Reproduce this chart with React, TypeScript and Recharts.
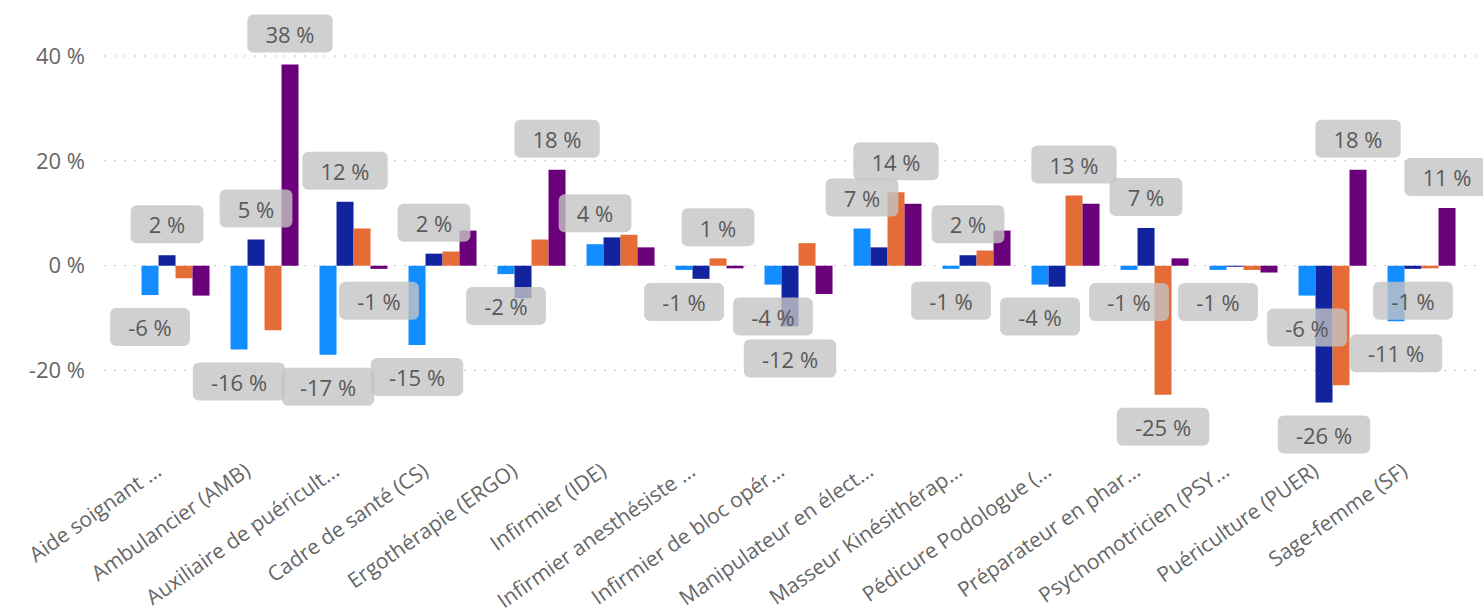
import { Bar, BarChart, CartesianGrid, LabelList, XAxis, YAxis } from 'recharts';

const categories = [
  'Aide soignant ...',
  'Ambulancier (AMB)',
  'Auxiliaire de puéricult...',
  'Cadre de santé (CS)',
  'Ergothérapie (ERGO)',
  'Infirmier (IDE)',
  'Infirmier anesthésiste ...',
  'Infirmier de bloc opér...',
  'Manipulateur en élect...',
  'Masseur Kinésithérap...',
  'Pédicure Podologue (...',
  'Préparateur en phar...',
  'Psychomotricien (PSY...',
  'Puériculture (PUER)',
  'Sage-femme (SF)',
];

const lightBlue = [-5.6, -16.0, -17.0, -15.1, -1.6, 4.1, -0.8, -3.6, 7.1, -0.6, -3.6, -0.8, -0.8, -5.7, -10.6];
const darkBlue = [2.0, 5.0, 12.2, 2.3, -6.2, 5.4, -2.5, -11.6, 3.5, 2.0, -4.0, 7.2, -0.2, -26.1, -0.6];
const orange = [-2.4, -12.3, 7.1, 2.7, 5.0, 5.9, 1.4, 4.3, 14.0, 2.9, 13.4, -24.6, -0.8, -22.8, -0.5];
const purple = [-5.7, 38.4, -0.6, 6.7, 18.3, 3.5, -0.5, -5.4, 11.8, 6.7, 11.8, 1.4, -1.3, 18.3, 11.0];

// which bars keep a visible data label (the others are hidden by overlap in the original)
const lightBlueLabels = [0, 1, 2, 3, 4, 5, 6, 7, 8, 9, 10, 11, 12, 13, 14];
const darkBlueLabels = [0, 1, 2, 3, 7, 9, 11, 13, 14];
const orangeLabels = [6, 8, 10, 11];
const purpleLabels = [1, 2, 4, 13, 14];

const yTicks = [-20, 0, 20, 40];

const data = categories.map((name, i) => ({
  name,
  s1: lightBlue[i],
  s2: darkBlue[i],
  s3: orange[i],
  s4: purple[i],
}));

const series = [
  { key: 's1', color: '#118DFF', labels: lightBlueLabels },
  { key: 's2', color: '#12239E', labels: darkBlueLabels },
  { key: 's3', color: '#E66C37', labels: orangeLabels },
  { key: 's4', color: '#6B007B', labels: purpleLabels },
];

const font = '"Segoe UI", "Open Sans", sans-serif';
const fontSize = 22;

const charW: Record<string, number> = { '-': 0.32, ' ': 0.26, '%': 0.84 };
function textWidth(s: string) {
  return [...s].reduce((w, ch) => w + (charW[ch] ?? 0.572) * fontSize, 0);
}

function makeLabel(shown: number[]) {
  return (props: any) => {
    const { x, y, width, height, value, index } = props;
    if (!shown.includes(index)) return null;
    const text = `${Math.round(value)} %`;
    const top = Math.min(y, y + height);
    const bottom = Math.max(y, y + height);
    const w = textWidth(text) + 36;
    const h = 38;
    const cx = x + width / 2;
    const boxY = value >= 0 ? top - 12 - h : bottom + 13;
    return (
      <g>
        <rect x={cx - w / 2} y={boxY} width={w} height={h} rx={6} fill="#c4c4c4" fillOpacity={0.8} />
        <text
          x={cx}
          y={boxY + h / 2 + 1.5}
          dy="0.35em"
          textAnchor="middle"
          fontSize={fontSize}
          fontFamily={font}
          fill="#5a5a5a"
        >
          {text}
        </text>
      </g>
    );
  };
}

function XTick({ x, y, payload }: any) {
  return (
    <g transform={`translate(${x - 18},${y + 45})`}>
      <text
        transform="rotate(-35)"
        textAnchor="end"
        dy="0.35em"
        fontSize={21}
        fontFamily={font}
        fill="#666"
      >
        {payload.value}
      </text>
    </g>
  );
}

function YTick({ y, payload }: any) {
  return (
    <text x={85} y={y} dy="0.35em" textAnchor="end" fontSize={fontSize} fontFamily={font} fill="#666">
      {`${payload.value} %`}
    </text>
  );
}

export default function App() {
  return (
    <div style={{ position: 'absolute', left: 0, top: 0, background: '#fff' }}>
      <BarChart
        width={1483}
        height={616}
        data={data}
        margin={{ top: 56, right: 0, left: 0, bottom: 0 }}
        barCategoryGap="10.7%"
        barGap={0}
      >
        <CartesianGrid
          vertical={false}
          horizontalValues={yTicks}
          stroke="#c4c4c4"
          strokeDasharray="2 8"
        />
        <XAxis
          dataKey="name"
          interval={0}
          height={193}
          axisLine={false}
          tickLine={false}
          tickSize={0}
          tickMargin={0}
          padding={{ left: 28, right: 16 }}
          tick={<XTick />}
        />
        <YAxis
          width={104}
          domain={[-30, 40]}
          ticks={yTicks}
          axisLine={false}
          tickLine={false}
          tick={<YTick />}
        />
        {series.map((s) => (
          <Bar key={s.key} dataKey={s.key} fill={s.color} isAnimationActive={false}>
            <LabelList dataKey={s.key} content={makeLabel(s.labels)} />
          </Bar>
        ))}
      </BarChart>
    </div>
  );
}
